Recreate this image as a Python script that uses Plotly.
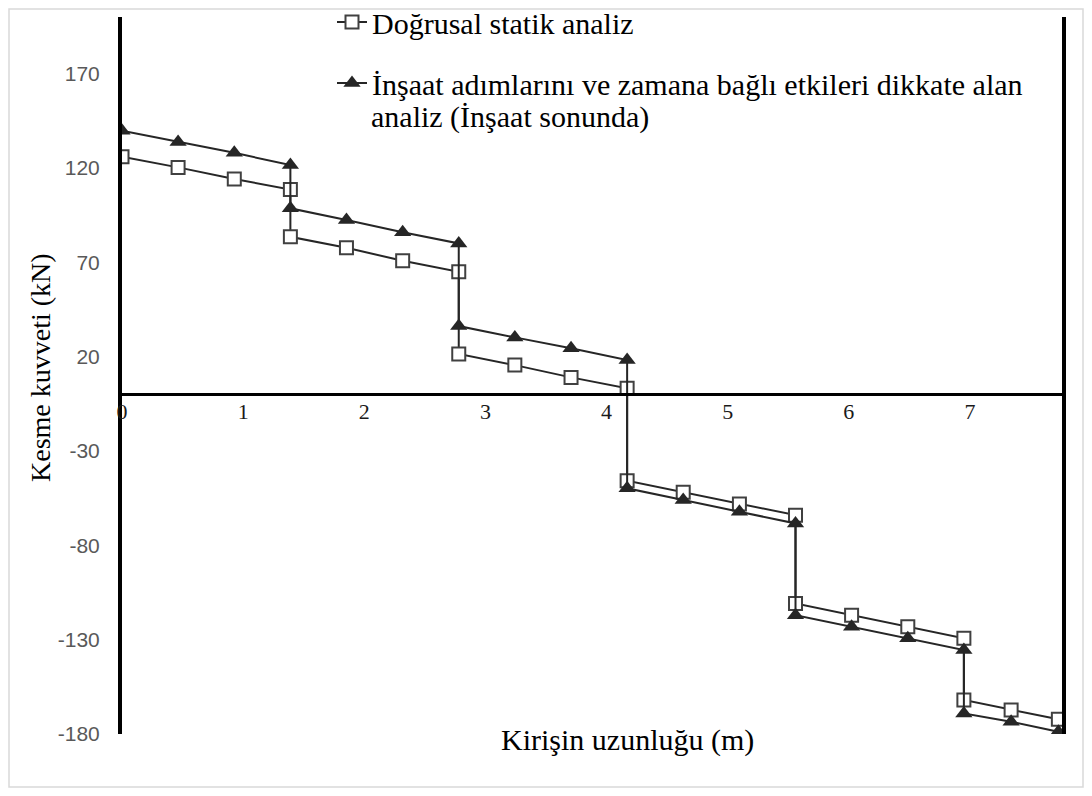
import plotly.graph_objects as go

# Beam positions (m)
x_m = [0, 0.463, 0.927, 1.39, 1.39, 1.853, 2.317, 2.78, 2.78, 3.243, 3.707, 4.17,
       4.17, 4.633, 5.097, 5.56, 5.56, 6.023, 6.487, 6.95, 6.95, 7.34, 7.73]

# Shear force (kN)
linear_static = [125.9, 120.3, 114.1, 108.6, 83.5, 77.7, 70.8, 65.0, 21.4, 15.5, 9.0, 3.2,
                 -45.8, -51.9, -58.1, -64.0, -110.8, -117.0, -123.2, -129.3, -162.0, -167.3, -172.2]
construction = [139.7, 133.7, 128.0, 121.5, 98.6, 92.4, 85.9, 80.0, 36.2, 30.2, 24.4, 18.2,
                -49.8, -56.0, -62.2, -68.4, -117.0, -123.2, -129.3, -135.5, -169.1, -173.5, -178.8]

name_1 = "Doğrusal statik analiz"
name_2 = "İnşaat adımlarını ve zamana bağlı etkileri dikkate alan"
name_2_cont = "analiz (İnşaat sonunda)"
x_ticks = [0, 1, 2, 3, 4, 5, 6, 7]
y_ticks = [170, 120, 70, 20, -30, -80, -130, -180]
y_tick_labels = ["170", "120", "70", "20", "-30", "-80", "-130", "-180"]
x_title = "Kirişin uzunluğu (m)"
y_title = "Kesme kuvveti (kN)"

SERIF = "Liberation Serif, Times New Roman, serif"
y_min, y_max = -180, 200
x_max = 7.76

# page offset of the figure (default 8px body margin)
OFF = 8
W, H = 1076, 780
L, T = 122 - OFF, 17 - OFF
R = W - (1062 - OFF)
B = H - (734 - OFF)
PW, PH = W - L - R, H - T - B


def px_x(page_x):
    return (page_x - OFF - L) / PW


def px_y(page_y):
    return (H - B - (page_y - OFF)) / PH


fig = go.Figure()
fig.add_trace(go.Scatter(
    x=x_m, y=linear_static, name=name_1, mode="lines+markers", legendgroup="a",
    line=dict(color="#262626", width=2),
    marker=dict(symbol="square", size=13, color="white", line=dict(color="#404040", width=2)),
))
fig.add_trace(go.Scatter(
    x=x_m, y=construction, name=name_2, mode="lines+markers", legendgroup="b",
    line=dict(color="#262626", width=2),
    marker=dict(symbol="triangle-up", size=15, color="#262626", line=dict(width=0)),
))

fig.update_layout(
    width=W, height=H,
    margin=dict(l=L, r=R, t=T, b=B, autoexpand=False),
    paper_bgcolor="white", plot_bgcolor="white",
    showlegend=True,
    legend=dict(
        x=px_x(372 - 40), y=px_y(-4), xanchor="left", yanchor="top",
        bgcolor="rgba(0,0,0,0)", font=dict(family=SERIF, size=30, color="black"),
        valign="middle", tracegroupgap=19, itemwidth=30,
    ),
    xaxis=dict(
        range=[0, x_max], anchor="free", position=(0 - y_min) / (y_max - y_min),
        tickvals=x_ticks, ticks="", showgrid=False, zeroline=False,
        showline=True, linecolor="black", linewidth=3,
        tickfont=dict(family=SERIF, size=22, color="#1a1a1a"),
        ticklabelstandoff=-4,
    ),
    yaxis=dict(
        range=[y_min, y_max], tickvals=y_ticks, ticktext=y_tick_labels, ticks="",
        showgrid=False, zeroline=False, showline=True, linecolor="black", linewidth=4,
        mirror=True,
        tickfont=dict(family="Liberation Sans, Arial, sans-serif", size=21, color="#595959"),
        ticklabelstandoff=14,
    ),
    annotations=[
        dict(text=name_2_cont, xref="paper", yref="paper", x=px_x(369), y=px_y(117),
             xanchor="left", yanchor="middle", showarrow=False,
             font=dict(family=SERIF, size=30, color="black")),
        dict(text=x_title, xref="paper", yref="paper", x=px_x(627), y=px_y(740),
             xanchor="center", yanchor="middle", showarrow=False,
             font=dict(family=SERIF, size=30, color="black")),
        dict(text=y_title, xref="paper", yref="paper", x=px_x(40), y=px_y(368),
             xanchor="center", yanchor="middle", showarrow=False, textangle=-90,
             font=dict(family=SERIF, size=28, color="black")),
    ],
    shapes=[
        dict(type="rect", xref="paper", yref="paper",
             x0=px_x(9), x1=px_x(1083), y0=px_y(787), y1=px_y(9),
             line=dict(color="#d9d9d9", width=1.5), fillcolor="rgba(0,0,0,0)", layer="below"),
    ],
)

fig.write_html("out.html")
